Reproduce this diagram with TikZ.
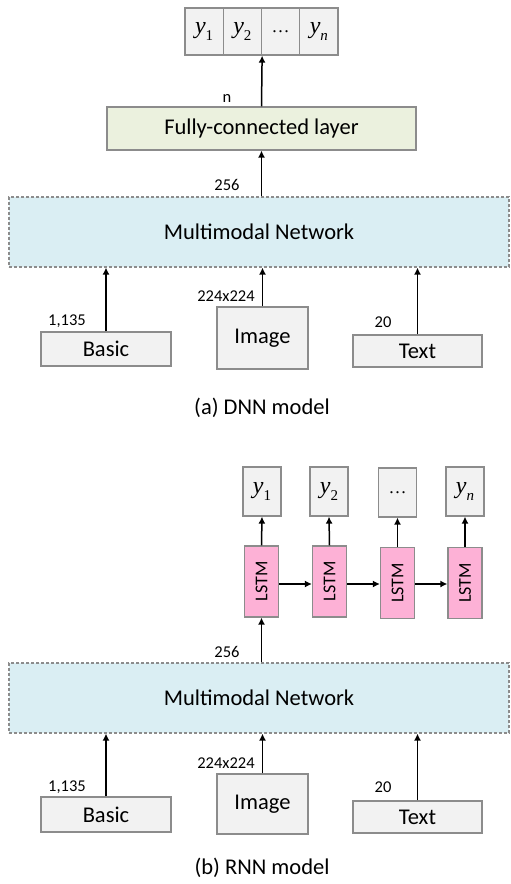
\documentclass[tikz,border=0pt]{standalone}
\usepackage{fontspec}
\setmainfont{Carlito}
\newfontfamily\yfont{Liberation Serif}
\newcommand{\ylab}[1]{{\yfont\itshape y}\raisebox{-0.28em}{\yfont\fontsize{15}{15}\selectfont #1}}
\usetikzlibrary{arrows.meta}
\definecolor{bordergray}{HTML}{8C8C8C}
\definecolor{boxgray}{HTML}{F2F2F2}
\definecolor{fcgreen}{HTML}{EBF1DE}
\definecolor{mnblue}{HTML}{DAEEF3}
\definecolor{lstmpink}{HTML}{FDB1D6}
\tikzset{
  base/.style={draw=bordergray, line width=1.2pt, inner sep=0pt, font=\fontsize{22.5}{27}\selectfont},
  graybox/.style={base, fill=boxgray},
  fcbox/.style={base, fill=fcgreen},
  mnbox/.style={base, fill=mnblue, dashed, dash pattern=on 3pt off 2pt},
  lstmbox/.style={base, fill=lstmpink, minimum width=34pt, minimum height=71pt},
  ybox/.style={graybox, minimum width=38.25pt, minimum height=47pt, font=\fontsize{24}{28}\selectfont},
  yboxb/.style={graybox, minimum width=38pt, minimum height=49pt, font=\fontsize{24}{28}\selectfont},
  arr/.style={-{Latex[length=7pt,width=7pt]}, line width=1.5pt, black},
  dimlabel/.style={inner sep=0pt, font=\fontsize{16.5}{19}\selectfont},
  caption/.style={inner sep=0pt, font=\fontsize{22.5}{27}\selectfont}
}
\begin{document}
\begin{tikzpicture}[x=1pt,y=-1pt]
\useasboundingbox (0,0) rectangle (511,884);
% ---------- (a) DNN model ----------
\node[ybox] (ya1) at (204.1,31.5) {\ylab{1}};
\node[ybox] (ya2) at (242.4,31.5) {\ylab{2}};
\node[ybox] (ya3) at (280.6,31.5) {\yfont\fontsize{18}{20}\selectfont …};
\node[ybox] (ya4) at (318.9,31.5) {\ylab{\itshape n}};
\node[fcbox, minimum width=309pt, minimum height=43pt] (fc) at (261.5,128.5) {Fully-connected layer};
\node[mnbox, minimum width=500pt, minimum height=70pt] (mna) at (259,232) {Multimodal Network};
\node[graybox, minimum width=130pt, minimum height=34pt] (basica) at (106,349) {Basic};
\node[graybox, minimum width=91pt, minimum height=62pt] (imagea) at (262.5,338) {Image};
\node[graybox, minimum width=129pt, minimum height=32pt] (texta) at (417.5,351) {Text};
\draw[arr] (fc.north) -- (ya2.south east);
\draw[arr] (fc.south |- mna.north) -- (fc.south);
\draw[arr] (basica.north) -- (basica.north |- mna.south);
\draw[arr] (imagea.north) -- (imagea.north |- mna.south);
\draw[arr] (texta.north) -- (texta.north |- mna.south);
\node[dimlabel] (na) at (227,98) {n};
\node[dimlabel] (l256a) at (227,185) {256};
\node[dimlabel] (l1135a) at (67,321) {1,135};
\node[dimlabel] (l224a) at (226,296) {224x224};
\node[dimlabel] (l20a) at (383,322) {20};
\node[caption] (capa) at (262,408) {(a) DNN model};
% ---------- (b) RNN model ----------
\node[yboxb] (yb1) at (262,491.5) {\ylab{1}};
\node[yboxb] (yb2) at (329,491.5) {\ylab{2}};
\node[yboxb] (yb3) at (397.5,492.5) {\yfont\fontsize{18}{20}\selectfont …};
\node[yboxb] (yb4) at (465,491.5) {\ylab{\itshape n}};
\node[lstmbox] (ls1) at (261.5,581.5) {\fontsize{18}{20}\selectfont\rotatebox{90}{LSTM}};
\node[lstmbox] (ls2) at (329.5,581.5) {\fontsize{18}{20}\selectfont\rotatebox{90}{LSTM}};
\node[lstmbox] (ls3) at (397.5,583) {\fontsize{18}{20}\selectfont\rotatebox{90}{LSTM}};
\node[lstmbox] (ls4) at (465,583) {\fontsize{18}{20}\selectfont\rotatebox{90}{LSTM}};
\node[mnbox, minimum width=500pt, minimum height=70pt] (mnb) at (259,698) {Multimodal Network};
\node[graybox, minimum width=130pt, minimum height=35pt] (basicb) at (106,814.5) {Basic};
\node[graybox, minimum width=91pt, minimum height=60pt] (imageb) at (262.5,804) {Image};
\node[graybox, minimum width=129pt, minimum height=32pt] (textb) at (417.5,817) {Text};
\draw[arr] (ls1.north) -- (yb1.south);
\draw[arr] (ls2.north) -- (yb2.south);
\draw[arr] (ls3.north) -- (yb3.south);
\draw[arr] (ls4.north) -- (yb4.south);
\draw[arr] (ls1.east |- 0,584) -- (ls2.west |- 0,584);
\draw[arr] (ls2.east |- 0,584) -- (ls3.west |- 0,584);
\draw[arr] (ls3.east |- 0,584) -- (ls4.west |- 0,584);
\draw[arr] (ls1.south |- mnb.north) -- (ls1.south);
\draw[arr] (basicb.north) -- (basicb.north |- mnb.south);
\draw[arr] (imageb.north) -- (imageb.north |- mnb.south);
\draw[arr] (textb.north) -- (textb.north |- mnb.south);
\node[dimlabel] (l256b) at (227,652) {256};
\node[dimlabel] (l1135b) at (67,787) {1,135};
\node[dimlabel] (l224b) at (226,763) {224x224};
\node[dimlabel] (l20b) at (383,787) {20};
\node[caption] (capb) at (262,868) {(b) RNN model};
\end{tikzpicture}
\end{document}
